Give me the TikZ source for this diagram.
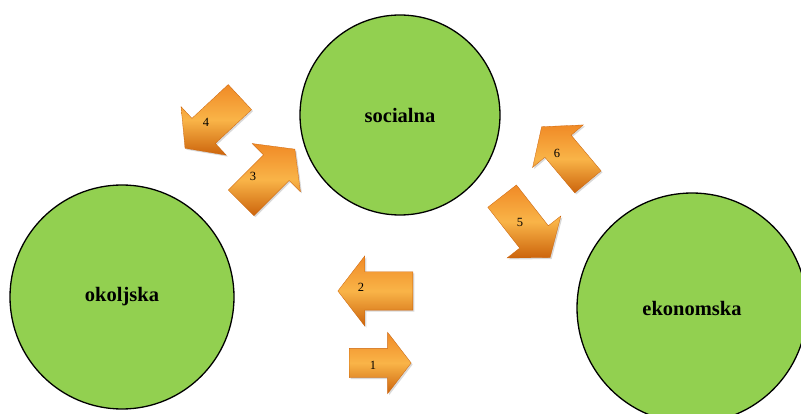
\documentclass[tikz,border=0pt]{standalone}
\usepackage{fontspec}
\setmainfont{Liberation Serif}
\usetikzlibrary{shapes.arrows,shadows}
\definecolor{circgreen}{HTML}{92D050}
\definecolor{orA}{HTML}{F08A26}
\definecolor{orB}{HTML}{F9B448}
\definecolor{orC}{HTML}{CC640C}
\tikzset{
  bigcirc/.style={circle,draw=black,line width=1.3pt,fill=circgreen,inner sep=0pt,
    font=\fontsize{20.5}{24}\selectfont\bfseries},
  orarrow/.style={single arrow,anchor=tail,inner xsep=0pt,inner ysep=18pt,
    single arrow head extend=16pt,single arrow tip angle=105,
    draw=orC,line width=0.3pt,
    top color=orA,bottom color=orC,middle color=orB,
    drop shadow={opacity=0.3,shadow xshift=1.5pt,shadow yshift=-1.5pt}},
  numlbl/.style={font=\fontsize{12.5}{14}\selectfont,inner sep=0pt}
}
\begin{document}
\begin{tikzpicture}[x=1pt,y=-1pt]
\useasboundingbox (0,0) rectangle (801,414);
\clip (0,0) rectangle (801,414);
\node[bigcirc,minimum size=200pt] (soc) at (400,115) {socialna};
\node[bigcirc,minimum size=224pt] (oko) at (122,297) {okoljska};
\node[bigcirc,minimum size=230pt] (eko) at (692,308) {ekonomska};
% arrows (placed by their tail)
\node[orarrow,inner ysep=14.5pt,minimum height=62pt,rotate=0] (a1) at (349,363) {};
\node[orarrow,inner ysep=19pt,minimum height=75pt,rotate=180] (a2) at (413,291) {};
\node[orarrow,minimum height=76pt,rotate=45] (a3) at (241,203) {};
\node[orarrow,inner ysep=17pt,minimum height=75pt,rotate=223] (a4) at (240,97) {};
\node[orarrow,minimum height=78pt,rotate=-52] (a5) at (502,196) {};
\node[orarrow,inner ysep=17pt,minimum height=72pt,rotate=130] (a6) at (588,182) {};
% labels
\node[numlbl] (l1) at (373,365) {1};
\node[numlbl] (l2) at (361,287) {2};
\node[numlbl] (l3) at (253,176) {3};
\node[numlbl] (l4) at (206,122) {4};
\node[numlbl] (l5) at (520,222) {5};
\node[numlbl] (l6) at (557,153) {6};
\end{tikzpicture}
\end{document}
